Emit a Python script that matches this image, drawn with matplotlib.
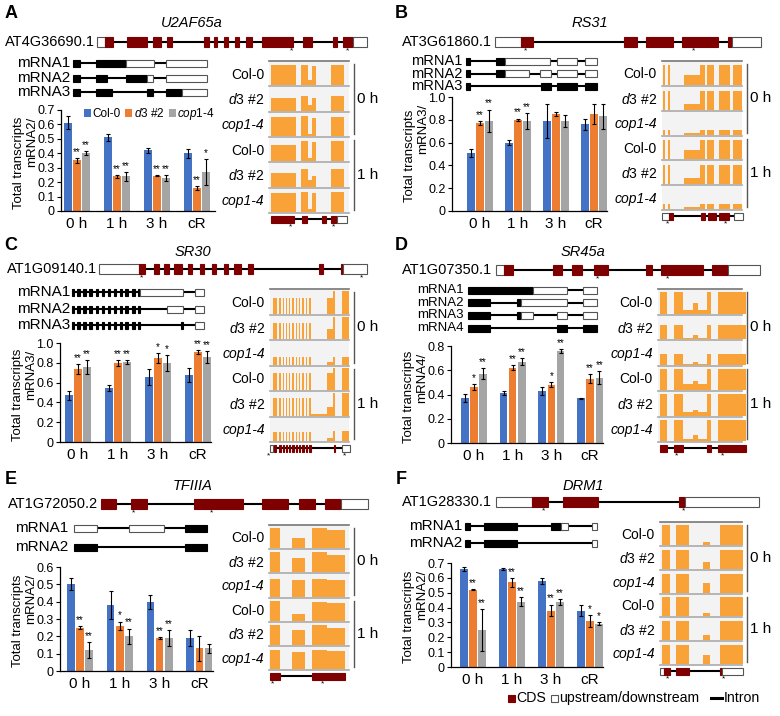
import matplotlib
matplotlib.use("Agg")
import matplotlib.pyplot as plt
import numpy as np
from matplotlib.patches import Rectangle, Patch

plt.rcParams["font.family"] = ["Liberation Sans", "DejaVu Sans"]
plt.rcParams["mathtext.fontset"] = "custom"
plt.rcParams["mathtext.rm"] = "Liberation Sans"
plt.rcParams["mathtext.it"] = "Liberation Sans:italic"

W, H = 780, 716
BLUE, ORANGE, GRAY = "#4472C4", "#ED7D31", "#A5A5A5"
CDS, COV, TRACK_BG = "#7F0000", "#F8A237", "#F3F3F3"

times = ["0 h", "1 h", "3 h", "cR"]
genotypes = ["Col-0", r"$\mathit{d3}$ #2", r"$\mathit{cop1}$-$\mathit{4}$"]
track_names = ["Col-0", r"$\mathit{d3}$ #2", "cop1-4"] * 2

# ---------------- A: U2AF65a ----------------
a_gene, a_id, a_ratio = "U2AF65a", "AT4G36690.1", "mRNA2/"
a_col0 = [0.61, 0.51, 0.42, 0.40]
a_col0_err = [0.045, 0.025, 0.02, 0.03]
a_d3 = [0.35, 0.24, 0.245, 0.16]
a_d3_err = [0.015, 0.01, 0.005, 0.012]
a_cop = [0.40, 0.24, 0.23, 0.27]
a_cop_err = [0.015, 0.03, 0.02, 0.09]
a_d3_sig = ["**", "**", "**", "**"]
a_cop_sig = ["**", "**", "**", "*"]
a_model = [(0, 8, "u"), (8, 16, "c"), (30, 50, "c"), (56, 64, "c"), (70, 75, "c"),
           (107, 112, "c"), (117, 120, "c"), (127, 131, "c"), (138, 142, "c"),
           (149, 155, "c"), (165, 196, "c"), (206, 215, "c"), (236, 240, "c"),
           (246, 256, "c"), (256, 270, "u")]
a_marks = [194, 250]
a_iso = [
    [(0, 7, "b"), (23, 53, "b"), (53, 81, "w"), (93, 134, "w")],
    [(0, 7, "b"), (23, 34, "b"), (53, 74, "b"), (74, 80, "w"), (93, 134, "w")],
    [(0, 7, "b"), (23, 39, "b"), (74, 80, "b"), (93, 109, "b"), (109, 134, "w")],
]
a_cov_segs = [(5, 80, 0), (95, 118, 1), (118, 130, 2), (130, 140, 3), (185, 225, 4)]
a_cov_levels = [[0.9, 0.9, 0.25, 0.85, 0.9], [0.55, 0.65, 0.25, 0.55, 0.65],
                [0.85, 0.9, 0.1, 0.8, 0.85], [0.75, 0.9, 0.15, 0.85, 0.9],
                [0.6, 0.8, 0.3, 0.5, 0.8], [0.85, 0.9, 0.15, 0.85, 0.9]]
a_mini = [(5, 75, "c"), (98, 115, "c"), (160, 170, "c"), (185, 205, "c"), (205, 235, "u")]
a_mini_marks = [65, 195]

# ---------------- B: RS31 ----------------
b_gene, b_id, b_ratio = "RS31", "AT3G61860.1", "mRNA3/"
b_col0 = [0.51, 0.60, 0.79, 0.76]
b_col0_err = [0.035, 0.025, 0.15, 0.05]
b_d3 = [0.77, 0.80, 0.85, 0.85]
b_d3_err = [0.02, 0.01, 0.02, 0.09]
b_cop = [0.79, 0.79, 0.79, 0.83]
b_cop_err = [0.10, 0.07, 0.05, 0.11]
b_d3_sig = ["**", "**", "", ""]
b_cop_sig = ["**", "**", "", ""]
b_model = [(0, 26, "u"), (26, 38, "c"), (129, 142, "c"), (151, 178, "c"),
           (187, 223, "c"), (233, 237, "c"), (237, 266, "u")]
b_marks = [30, 199]
b_iso = [
    [(0, 4, "b"), (30, 39, "b"), (39, 84, "w"), (91, 111, "w"), (119, 131, "w")],
    [(0, 4, "b"), (30, 39, "b"), (39, 63, "w"), (74, 85, "w"), (91, 111, "w"), (119, 131, "w")],
    [(0, 4, "b"), (75, 85, "b"), (91, 111, "b"), (119, 131, "b")],
]
b_cov_segs = [(2, 10, 0), (18, 25, 0), (65, 115, 1), (115, 128, 0), (135, 155, 0),
              (170, 205, 0), (212, 240, 0)]
b_cov_levels = [[0.9, 0.45], [0.85, 0.25], [0.2, 0.08], [0.9, 0.45], [0.9, 0.3], [0.25, 0.1]]
b_mini = [(0, 20, "u"), (22, 32, "c"), (118, 130, "c"), (138, 162, "c"), (170, 202, "c"),
          (215, 242, "u")]
b_mini_marks = [18, 189]

# ---------------- C: SR30 ----------------
c_gene, c_id, c_ratio = "SR30", "AT1G09140.1", "mRNA3/"
c_col0 = [0.47, 0.55, 0.66, 0.68]
c_col0_err = [0.05, 0.03, 0.08, 0.07]
c_d3 = [0.74, 0.80, 0.85, 0.91]
c_d3_err = [0.05, 0.03, 0.05, 0.02]
c_cop = [0.76, 0.81, 0.80, 0.86]
c_cop_err = [0.07, 0.02, 0.08, 0.06]
c_d3_sig = ["**", "**", "*", "**"]
c_cop_sig = ["**", "**", "*", "**"]
c_model = [(0, 40, "u"), (40, 46, "c"), (55, 60, "c"), (65, 70, "c"), (75, 83, "c"),
           (89, 93, "c"), (101, 105, "c"), (113, 117, "c"), (125, 129, "c"),
           (135, 142, "c"), (149, 154, "c"), (220, 224, "c"), (242, 244, "c"),
           (244, 268, "u")]
c_marks = [43, 262]
c_ticks = [(0, 2, "b"), (5, 8, "b"), (11, 14, "b"), (17, 20, "b"), (24, 25.5, "b"),
           (30, 31.5, "b"), (36, 37.5, "b"), (42, 43.5, "b"), (48, 50, "b"),
           (53, 56, "b"), (60, 63, "b"), (66, 68, "b")]
c_iso = [
    c_ticks + [(68, 111, "w"), (123, 132, "w")],
    c_ticks + [(95, 111, "w"), (123, 132, "w")],
    c_ticks + [(109, 111, "b"), (123, 132, "w")],
]
c_cov_segs = [(10, 20, 0), (28, 32, 0), (38, 42, 0), (48, 52, 0), (58, 62, 0), (68, 72, 0),
              (78, 82, 0), (88, 92, 0), (98, 102, 0), (108, 112, 0), (118, 124, 0),
              (124, 172, 3), (172, 192, 1), (192, 198, 2), (218, 240, 2)]
c_cov_levels = [[0.7, 0.7, 1.0, 0], [0.7, 0.45, 1.0, 0], [0.35, 0.1, 0.35, 0],
                [0.75, 0.75, 1.0, 0], [0.8, 0.4, 1.0, 0.05], [0.4, 0.15, 0.45, 0]]
c_mini = [(0, 10, "u"), (12, 18, "c"), (28, 32, "c"), (38, 42, "c"), (48, 52, "c"),
          (58, 62, "c"), (68, 72, "c"), (78, 82, "c"), (88, 92, "c"), (98, 102, "c"),
          (108, 112, "c"), (118, 124, "c"), (195, 198, "c"), (218, 242, "u")]
c_mini_marks = [-4, 225]

# ---------------- D: SR45a ----------------
d_gene, d_id, d_ratio = "SR45a", "AT1G07350.1", "mRNA4/"
d_col0 = [0.37, 0.41, 0.43, 0.37]
d_col0_err = [0.035, 0.015, 0.03, 0.005]
d_d3 = [0.46, 0.62, 0.48, 0.53]
d_d3_err = [0.025, 0.02, 0.02, 0.035]
d_cop = [0.57, 0.67, 0.76, 0.54]
d_cop_err = [0.045, 0.03, 0.015, 0.055]
d_d3_sig = ["*", "**", "*", "**"]
d_cop_sig = ["**", "**", "**", "**"]
d_model = [(0, 8, "u"), (8, 17, "c"), (57, 66, "c"), (76, 86, "c"), (98, 112, "c"),
           (150, 156, "c"), (165, 207, "c"), (216, 232, "c"), (232, 264, "u")]
d_marks = [101, 172]
d_iso = [
    [(0, 65, "b"), (65, 99, "w"), (115, 129, "w")],
    [(0, 22, "b"), (49, 53, "b"), (53, 99, "w"), (115, 129, "w")],
    [(0, 22, "b"), (49, 53, "b"), (53, 65, "w"), (89, 99, "w"), (115, 129, "w")],
    [(0, 22, "b"), (89, 99, "b"), (115, 129, "b")],
]
d_cov_segs = [(5, 25, 0), (47, 70, 0), (70, 100, 1), (100, 115, 2), (115, 140, 1),
              (140, 150, 0), (170, 250, 0)]
d_cov_levels = [[0.95, 0.15, 0.45], [0.62, 0.05, 0.2], [0.45, 0.02, 0.1],
                [0.95, 0.25, 0.4], [0.95, 0.15, 0.25], [0.95, 0.1, 0.25]]
d_mini = [(5, 25, "c"), (47, 70, "c"), (140, 150, "c"), (170, 250, "c")]
d_mini_marks = [54, 183]

# ---------------- E: TFIIIA ----------------
e_gene, e_id, e_ratio = "TFIIIA", "AT1G72050.2", "mRNA2/"
e_col0 = [0.50, 0.38, 0.40, 0.19]
e_col0_err = [0.035, 0.08, 0.04, 0.045]
e_d3 = [0.25, 0.26, 0.19, 0.13]
e_d3_err = [0.01, 0.025, 0.005, 0.07]
e_cop = [0.12, 0.20, 0.19, 0.13]
e_cop_err = [0.045, 0.045, 0.045, 0.025]
e_d3_sig = ["**", "*", "**", ""]
e_cop_sig = ["**", "**", "**", ""]
e_model = [(0, 15, "c"), (30, 46, "c"), (93, 142, "c"), (161, 187, "c"),
           (198, 214, "c"), (224, 240, "c"), (240, 267, "u")]
e_marks = [32, 110]
e_iso = [
    [(0, 23, "w"), (55, 90, "w"), (111, 133, "b")],
    [(0, 23, "b"), (111, 133, "b")],
]
e_cov_segs = [(2, 32, 0), (68, 108, 1), (130, 175, 2), (175, 228, 3)]
e_cov_levels = [[0.95, 0.5, 0.95, 0.85], [0.95, 0.7, 0.95, 0.8], [0.85, 0.8, 0.85, 0.8],
                [0.95, 0.3, 0.9, 0.85], [0.95, 0.7, 0.95, 0.8], [0.9, 0.8, 0.9, 0.85]]
e_mini = [(2, 32, "c"), (130, 228, "c")]
e_mini_marks = [10, 160]

# ---------------- F: DRM1 ----------------
f_gene, f_id, f_ratio = "DRM1", "AT1G28330.1", "mRNA2/"
f_col0 = [0.66, 0.66, 0.58, 0.38]
f_col0_err = [0.012, 0.006, 0.02, 0.04]
f_d3 = [0.52, 0.57, 0.38, 0.31]
f_d3_err = [0.005, 0.03, 0.04, 0.04]
f_cop = [0.25, 0.44, 0.44, 0.29]
f_cop_err = [0.14, 0.03, 0.02, 0.01]
f_d3_sig = ["**", "**", "**", "*"]
f_cop_sig = ["**", "**", "**", "*"]
f_model = [(0, 36, "u"), (36, 52, "c"), (67, 102, "c"), (183, 189, "c"), (189, 263, "u")]
f_marks = [47, 187]
f_iso = [
    [(0, 5, "b"), (19, 52, "b"), (86, 96, "b"), (96, 103, "w"), (127, 132, "w")],
    [(0, 5, "b"), (19, 52, "b"), (127, 132, "w")],
]
f_cov_segs = [(5, 30, 0), (47, 85, 0), (127, 147, 1), (177, 243, 0)]
f_cov_levels = [[0.95, 0.15], [0.9, 0.3], [0.9, 0.45], [0.95, 0.15], [0.9, 0.25], [0.9, 0.45]]
f_mini = [(0, 13, "u"), (13, 30, "c"), (47, 85, "c"), (177, 181, "c"), (181, 243, "u")]
f_mini_marks = [21, 186]

panels = [
    dict(letter="A", gene=a_gene, gid=a_id, ratio=a_ratio, vals=(a_col0, a_d3, a_cop),
         errs=(a_col0_err, a_d3_err, a_cop_err), sig=(a_d3_sig, a_cop_sig), ymax=0.7, ystep=0.1,
         model=a_model, marks=a_marks, iso=a_iso, segs=a_cov_segs, levels=a_cov_levels,
         mini=a_mini, mini_marks=a_mini_marks, legend=True,
         pos=dict(letter=(11, 13), title=(192, 23), model_y=42, id_right=95, model_x=97,
                  iso_right=70, iso_x=73, iso_y=[63, 78, 92], iso_fs=11,
                  bar=(61, 215, 110, 211, 77, 40), tracks=(269, 349, 61, 213))),
    dict(letter="B", gene=b_gene, gid=b_id, ratio=b_ratio, vals=(b_col0, b_d3, b_cop),
         errs=(b_col0_err, b_d3_err, b_cop_err), sig=(b_d3_sig, b_cop_sig), ymax=1.0, ystep=0.2,
         model=b_model, marks=b_marks, iso=b_iso, segs=b_cov_segs, levels=b_cov_levels,
         mini=b_mini, mini_marks=b_mini_marks, legend=False,
         pos=dict(letter=(401, 14), title=(590, 23), model_y=42, id_right=492, model_x=495,
                  iso_right=462, iso_x=466, iso_y=[61, 73.5, 86], iso_fs=10.5,
                  bar=(452, 607, 97, 211, 480, 38), tracks=(662, 742, 61, 210))),
    dict(letter="C", gene=c_gene, gid=c_id, ratio=c_ratio, vals=(c_col0, c_d3, c_cop),
         errs=(c_col0_err, c_d3_err, c_cop_err), sig=(c_d3_sig, c_cop_sig), ymax=1.0, ystep=0.2,
         model=c_model, marks=c_marks, iso=c_iso, segs=c_cov_segs, levels=c_cov_levels,
         mini=c_mini, mini_marks=c_mini_marks, legend=False,
         pos=dict(letter=(11, 245), title=(193, 252), model_y=269, id_right=97, model_x=99,
                  iso_right=70, iso_x=72, iso_y=[292, 309, 325], iso_fs=11,
                  bar=(60, 211, 343, 442, 78, 40), tracks=(270, 349, 289, 442))),
    dict(letter="D", gene=d_gene, gid=d_id, ratio=d_ratio, vals=(d_col0, d_d3, d_cop),
         errs=(d_col0_err, d_d3_err, d_cop_err), sig=(d_d3_sig, d_cop_sig), ymax=0.8, ystep=0.2,
         model=d_model, marks=d_marks, iso=d_iso, segs=d_cov_segs, levels=d_cov_levels,
         mini=d_mini, mini_marks=d_mini_marks, legend=False,
         pos=dict(letter=(401, 245), title=(583, 252), model_y=270, id_right=492, model_x=496,
                  iso_right=464, iso_x=468, iso_y=[290, 302.7, 315.3, 328], iso_fs=9.5,
                  bar=(451, 603, 346, 443, 474, 38.7), tracks=(658, 742, 289, 442))),
    dict(letter="E", gene=e_gene, gid=e_id, ratio=e_ratio, vals=(e_col0, e_d3, e_cop),
         errs=(e_col0_err, e_d3_err, e_cop_err), sig=(e_d3_sig, e_cop_sig), ymax=0.6, ystep=0.1,
         model=e_model, marks=e_marks, iso=e_iso, segs=e_cov_segs, levels=e_cov_levels,
         mini=e_mini, mini_marks=e_mini_marks, legend=False,
         pos=dict(letter=(11, 480), title=(193, 486), model_y=504, id_right=98, model_x=101,
                  iso_right=68, iso_x=74, iso_y=[528, 547], iso_fs=11,
                  bar=(60, 213, 567, 671, 80, 39.8), tracks=(269, 349, 525, 670))),
    dict(letter="F", gene=f_gene, gid=f_id, ratio=f_ratio, vals=(f_col0, f_d3, f_cop),
         errs=(f_col0_err, f_d3_err, f_cop_err), sig=(f_d3_sig, f_cop_sig), ymax=0.7, ystep=0.1,
         model=f_model, marks=f_marks, iso=f_iso, segs=f_cov_segs, levels=f_cov_levels,
         mini=f_mini, mini_marks=f_mini_marks, legend=False,
         pos=dict(letter=(401, 480), title=(583, 486), model_y=502, id_right=492, model_x=496,
                  iso_right=462, iso_x=465, iso_y=[526, 543], iso_fs=11,
                  bar=(451, 603, 563, 667, 473, 39), tracks=(660, 742, 522, 665))),
]


def draw_model(cv, x0, y, parts, h, scale=1.0):
    """Exon boxes on an intron line; units scaled to pixels."""
    start = min(p[0] for p in parts)
    end = max(p[1] for p in parts)
    cv.plot([x0 + start * scale, x0 + end * scale], [y, y], color="black", lw=1.5,
            solid_capstyle="butt", zorder=2)
    for s, e, kind in parts:
        if kind == "c":
            fc, ec = CDS, CDS
        elif kind == "b":
            fc, ec = "black", "black"
        else:
            fc, ec = "white", "#555555"
        cv.add_patch(Rectangle((x0 + s * scale, y - h / 2), (e - s) * scale, h,
                               fc=fc, ec=ec, lw=0.8, zorder=3))


def draw_tracks(cv, x0, x1, ytop, ybot, segs, levels):
    th = (ybot - ytop) / 6
    sx = (x1 - x0) / 240
    for i in range(6):
        yt = ytop + i * th
        cv.add_patch(Rectangle((x0, yt), x1 - x0, th, fc=TRACK_BG, ec="none", zorder=1))
        for s, e, c in segs:
            hgt = levels[i][c] * (th - 3)
            if hgt > 0:
                cv.add_patch(Rectangle((x0 + s * sx, yt + th - 1 - hgt), (e - s) * sx, hgt,
                                       fc=COV, ec="none", zorder=2))
        cv.plot([x0, x1], [yt, yt], color="#777777" if i == 0 else "#AAAAAA", lw=1.2, zorder=3)
        cv.text(x0 - 5, yt + th / 2 + 1, track_names[i], ha="right", va="center",
                fontsize=10, style="italic" if i in (2, 5) else "normal")
    cv.plot([x0, x1], [ybot, ybot], color="#AAAAAA", lw=1.2, zorder=3)
    for k, lab in enumerate(["0 h", "1 h"]):
        ya = ytop + 3 * k * th + 3
        yb = ytop + 3 * (k + 1) * th - 3
        cv.plot([x1 + 5, x1 + 5], [ya, yb], color="#555555", lw=1.0)
        cv.text(x1 + 8, (ya + yb) / 2, lab, ha="left", va="center", fontsize=11)


def draw_bars(fig, p):
    left, right, top, y0, c0, sp = p["pos"]["bar"]
    ax = fig.add_axes([left / W, 1 - y0 / H, (right - left) / W, (y0 - top) / H])
    x = np.arange(len(times))
    w, off = 7.5 / sp, 9.2 / sp
    ekw = dict(elinewidth=0.8, capsize=1.6, capthick=0.8, ecolor="black")
    colors = [BLUE, ORANGE, GRAY]
    for k in range(3):
        ax.bar(x + (k - 1) * off, p["vals"][k], w, yerr=p["errs"][k], color=colors[k],
               error_kw=ekw, label=genotypes[k], zorder=2)
    for k, sig in ((1, p["sig"][0]), (2, p["sig"][1])):
        for i, s in enumerate(sig):
            if s:
                yy = p["vals"][k][i] + p["errs"][k][i] + p["ymax"] * 0.01
                ax.text(x[i] + (k - 1) * off, yy, s, ha="center", va="bottom", fontsize=7)
    ax.set_xlim((left - c0) / sp, (right - c0) / sp)
    ax.set_ylim(0, p["ymax"])
    ticks = np.arange(0, p["ymax"] + 1e-9, p["ystep"])
    ax.set_yticks(ticks)
    ax.set_yticklabels(["0"] + [f"{t:.1f}" for t in ticks[1:]], fontsize=9)
    ax.set_xticks(x)
    ax.set_xticklabels(times, fontsize=11)
    ax.tick_params(axis="x", length=0, pad=4)
    ax.tick_params(axis="y", length=3, width=0.8, pad=1.5)
    for side in ("top", "right"):
        ax.spines[side].set_visible(False)
    for side in ("left", "bottom"):
        ax.spines[side].set_linewidth(0.9)
    ax.patch.set_alpha(0)
    if p["legend"]:
        handles = [Patch(fc=c, ec="none") for c in colors]
        ax.legend(handles, genotypes, loc="upper right", bbox_to_anchor=(1.0, 1.04), ncol=3,
                  frameon=False, fontsize=8.5, handlelength=0.6, handleheight=0.6,
                  handletextpad=0.1, columnspacing=0.4, borderaxespad=0, borderpad=0)
    return ax


fig = plt.figure(figsize=(W / 100, H / 100), dpi=100)
cv = fig.add_axes([0, 0, 1, 1])
cv.set_xlim(0, W)
cv.set_ylim(H, 0)
cv.axis("off")

for p in panels:
    pos = p["pos"]
    cv.text(*pos["letter"], p["letter"], fontsize=13, fontweight="bold", ha="center", va="center")
    cv.text(*pos["title"], p["gene"], fontsize=10.5, style="italic", ha="center", va="center")
    my = pos["model_y"]
    cv.text(pos["id_right"], my, p["gid"], fontsize=10.5, ha="right", va="center")
    draw_model(cv, pos["model_x"], my, p["model"], 10)
    for m in p["marks"]:
        cv.text(pos["model_x"] + m, my + 9, "*", fontsize=6, ha="center", va="center")
    for i, iso in enumerate(p["iso"]):
        iy = pos["iso_y"][i]
        cv.text(pos["iso_right"], iy, f"mRNA{i + 1}", fontsize=pos["iso_fs"], ha="right",
                va="center")
        draw_model(cv, pos["iso_x"], iy, iso, 7)

    x0, x1, ytop, ybot = pos["tracks"]
    draw_tracks(cv, x0, x1, ytop, ybot, p["segs"], p["levels"])
    mini_y = ybot + 6
    draw_model(cv, x0, mini_y, p["mini"], 7, scale=(x1 - x0) / 240)
    for m in p["mini_marks"]:
        cv.text(x0 + m * (x1 - x0) / 240, mini_y + 8, "*", fontsize=6, ha="center", va="center")

    draw_bars(fig, p)
    left, right, top, y0 = pos["bar"][:4]
    cv.text(left - 29, top + 7, p["ratio"], rotation=90, fontsize=9.5, ha="center", va="top")
    cv.text(left - 42, (top + y0) / 2 + 2, "Total transcripts", rotation=90, fontsize=9.5,
            ha="center", va="center")

# bottom legend for gene models
ly = 698
cv.add_patch(Rectangle((508, ly - 3.5), 7, 7, fc=CDS, ec=CDS, lw=0.8))
cv.text(516, ly, "CDS", fontsize=10.2, ha="left", va="center")
cv.add_patch(Rectangle((551, ly - 3.5), 7, 7, fc="white", ec="#555555", lw=0.8))
cv.text(559, ly, "upstream/downstream", fontsize=10.2, ha="left", va="center")
cv.plot([711, 722], [ly, ly], color="black", lw=2.2)
cv.text(724, ly, "Intron", fontsize=10.2, ha="left", va="center")

fig.savefig("out.png", dpi=100)
